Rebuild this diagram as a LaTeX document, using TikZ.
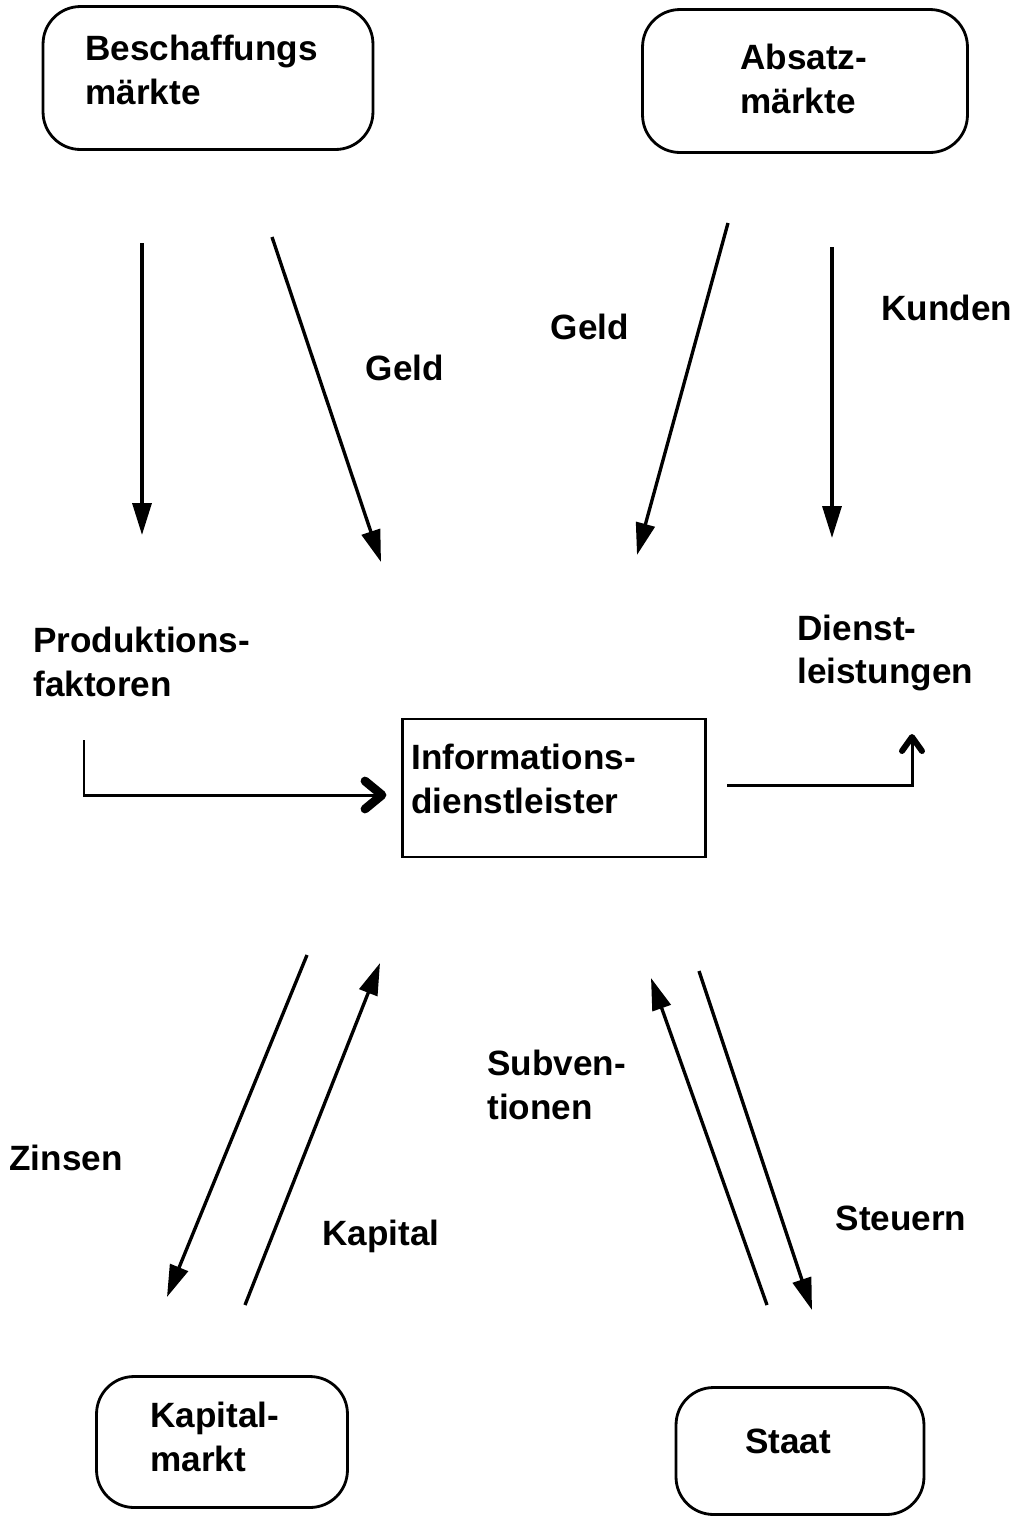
\documentclass[tikz,border=0pt]{standalone}
\usepackage{fontspec}
\setmainfont{Liberation Sans}
\usetikzlibrary{arrows.meta}

\begin{document}
\begin{tikzpicture}[
  x=0.02cm, y=-0.02cm,
  lbl/.style={inner sep=0pt, align=left, font=\bfseries\fontsize{20}{25}\selectfont},
  market/.style={rectangle, draw, rounded corners=0.75cm, line width=1.6pt},
  firm/.style={rectangle, draw, line width=1.4pt},
  flow/.style={line width=1.9pt, -{Triangle[length=0.64cm, width=0.38cm]}},
  barb/.style={line width=3.4pt, line cap=round, line join=round}
]

% page frame
\useasboundingbox (0,0) rectangle (1024,1516);

% ============================================
% Markets and the firm
% ============================================
\node[market, minimum width=6.6cm, minimum height=2.86cm] (beschaffung) at (208,78) {};
\node[lbl, anchor=west] (beschaffung-t) at (85,70) {Beschaffungs\\m\"arkte};

\node[market, minimum width=6.5cm, minimum height=2.86cm] (absatz) at (805,81) {};
\node[lbl, anchor=west] (absatz-t) at (740,79) {Absatz-\\m\"arkte};

\node[market, minimum width=5.02cm, minimum height=2.62cm] (kapitalmarkt) at (222,1442) {};
\node[lbl, anchor=west] (kapitalmarkt-t) at (150,1437) {Kapital-\\markt};

\node[market, minimum width=4.96cm, minimum height=2.54cm] (staat) at (800,1451) {};
\node[lbl] (staat-t) at (788,1441) {Staat};

\node[firm, minimum width=6.06cm, minimum height=2.76cm] (infodl) at (554,788) {};
\node[lbl, anchor=west] (infodl-t) at (411,779) {Informations-\\dienstleister};

% ============================================
% Flow labels
% ============================================
\node[lbl] (geldB) at (405,368) {Geld};
\node[lbl] (geldA) at (590,327) {Geld};
\node[lbl] (kunden) at (947,308) {Kunden};
\node[lbl, anchor=west] (prodfak) at (33,662) {Produktions-\\faktoren};
\node[lbl, anchor=west] (dienstl) at (797,653) {Dienst-\\leistungen};
\node[lbl, anchor=west] (subv) at (487,1085) {Subven-\\tionen};
\node[lbl] (zinsen) at (66,1158) {Zinsen};
\node[lbl] (kapital) at (381,1236) {Kapital};
\node[lbl] (steuern) at (901,1218) {Steuern};

% ============================================
% Arrow end points
% ============================================
\coordinate (beschL-s) at (142,243);  \coordinate (beschL-e) at (142,535);
\coordinate (beschR-s) at (272,237);  \coordinate (beschR-e) at (381,562);
\coordinate (absL-s) at (728,223);    \coordinate (absL-e) at (637,555);
\coordinate (absR-s) at (832,247);    \coordinate (absR-e) at (832,538);
\coordinate (prod-s) at (84,740);     \coordinate (prod-e) at (382,795);
\coordinate (dienst-s) at (727,785);  \coordinate (dienst-e) at (912,737);
\coordinate (zins-s) at (307,955);    \coordinate (zins-e) at (167,1297);
\coordinate (kap-s) at (245,1305);    \coordinate (kap-e) at (380,963);
\coordinate (subv-s) at (767,1305);   \coordinate (subv-e) at (651,978);
\coordinate (steu-s) at (699,971);    \coordinate (steu-e) at (812,1310);

% upper flows
\draw[flow] (beschL-s) -- (beschL-e);
\draw[flow] (beschR-s) -- (beschR-e);
\draw[flow] (absL-s) -- (absL-e);
\draw[flow] (absR-s) -- (absR-e);

% into and out of the firm, with bold barbs
\draw[line width=1.7pt] (prod-s) |- (prod-e);
\draw[barb, line width=5pt] ([shift={(-17,-14)}]prod-e) -- (prod-e) -- ([shift={(-17,14)}]prod-e);
\draw[line width=1.7pt] (dienst-s) -| (dienst-e);
\draw[barb] ([shift={(-10,14)}]dienst-e) -- (dienst-e) -- ([shift={(10,14)}]dienst-e);

% lower flows
\draw[flow] (zins-s) -- (zins-e);
\draw[flow] (kap-s) -- (kap-e);
\draw[flow] (subv-s) -- (subv-e);
\draw[flow] (steu-s) -- (steu-e);

\end{tikzpicture}
\end{document}
